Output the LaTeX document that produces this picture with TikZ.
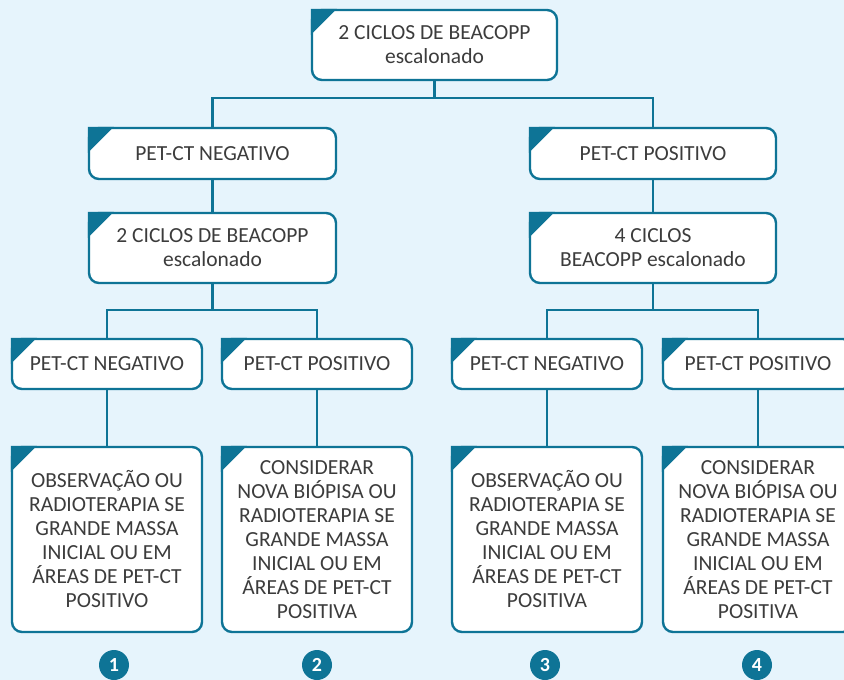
\documentclass[tikz,border=0pt]{standalone}
\usepackage{fontspec}
\setmainfont{Carlito}
\usepackage{tikz}
\usetikzlibrary{calc}
\definecolor{fundo}{HTML}{E6F4FC}
\definecolor{azul}{HTML}{0E7496}
\definecolor{texto}{HTML}{3C3C3C}

\begin{document}
\begin{tikzpicture}[
                x=1pt, y=-1pt, % 1 unidade = 1 pixel, y para baixo
                caixa/.style={draw=azul, line width=2.4pt, rounded corners=10pt, fill=white,
                    text=texto, align=center, inner sep=0pt,
                    font=\fontsize{21.5}{24}\selectfont},
                linha/.style={draw=azul, line width=2.4pt},
                numero/.style={circle, fill=azul, text=white, minimum size=30pt, inner sep=0pt,
                    font=\fontsize{20}{20}\selectfont\bfseries},
            ]
            % fundo
            \fill[fundo] (0,0) rectangle (844,680);
            \clip (0,0) rectangle (844,680);

            % nivel 1 e 2
            \node[caixa, minimum width=245pt, minimum height=70pt] (topo) at (434.5,45) {2 CICLOS DE BEACOPP\\escalonado};
            \node[caixa, minimum width=247pt, minimum height=51pt] (negA) at (212.5,153.5) {PET-CT NEGATIVO};
            \node[caixa, minimum width=246pt, minimum height=51pt] (posA) at (653,153.5) {PET-CT POSITIVO};

            % nivel 3
            \node[caixa, minimum width=247pt, minimum height=70pt] (ciclosA) at (212.5,248) {2 CICLOS DE BEACOPP\\escalonado};
            \node[caixa, minimum width=246pt, minimum height=70pt] (ciclosB) at (653,248) {4 CICLOS\\BEACOPP escalonado};

            % nivel 4
            \node[caixa, minimum width=190pt, minimum height=50pt] (negB) at (107,364) {PET-CT NEGATIVO};
            \node[caixa, minimum width=190pt, minimum height=50pt] (posB) at (317,364) {PET-CT POSITIVO};
            \node[caixa, minimum width=190pt, minimum height=50pt] (negC) at (547,364) {PET-CT NEGATIVO};
            \node[caixa, minimum width=190pt, minimum height=50pt] (posC) at (758,364) {PET-CT POSITIVO};

            % nivel 5
            \node[caixa, minimum width=190pt, minimum height=185pt] (condA) at (107,539.5)
                {OBSERVAÇÃO OU\\RADIOTERAPIA SE\\GRANDE MASSA\\INICIAL OU EM\\ÁREAS DE PET-CT\\POSITIVO};
            \node[caixa, minimum width=190pt, minimum height=185pt] (condB) at (317,539.5)
                {CONSIDERAR\\NOVA BIÓPISA OU\\RADIOTERAPIA SE\\GRANDE MASSA\\INICIAL OU EM\\ÁREAS DE PET-CT\\POSITIVA};
            \node[caixa, minimum width=190pt, minimum height=185pt] (condC) at (547,539.5)
                {OBSERVAÇÃO OU\\RADIOTERAPIA SE\\GRANDE MASSA\\INICIAL OU EM\\ÁREAS DE PET-CT\\POSITIVA};
            \node[caixa, minimum width=190pt, minimum height=185pt] (condD) at (758,539.5)
                {CONSIDERAR\\NOVA BIÓPISA OU\\RADIOTERAPIA SE\\GRANDE MASSA\\INICIAL OU EM\\ÁREAS DE PET-CT\\POSITIVA};

            % cantos (north west ja fica na borda externa da linha)
            \foreach \n in {topo,negA,posA,ciclosA,ciclosB,negB,posB,negC,posC,condA,condB,condC,condD}
                \fill[azul] (\n.north west) -- ++(26,0) -- ++(-26,26) -- cycle;

            % ligacoes
            \draw[linha] (topo.south) -- ++(0,17) -| (negA.north);
            \draw[linha] (topo.south) -- ++(0,17) -| (posA.north);
            \draw[linha] (negA) -- (ciclosA);
            \draw[linha] (posA) -- (ciclosB);
            \draw[linha] (ciclosA.south) -- ++(0,26) -| (negB.north);
            \draw[linha] (ciclosA.south) -- ++(0,26) -| (posB.north);
            \draw[linha] (ciclosB.south) -- ++(0,26) -| (negC.north);
            \draw[linha] (ciclosB.south) -- ++(0,26) -| (posC.north);
            \draw[linha] (negB) -- (condA);
            \draw[linha] (posB) -- (condB);
            \draw[linha] (negC) -- (condC);
            \draw[linha] (posC) -- (condD);

            % numeros
            \node[numero] (num1) at (114,665) {1};
            \node[numero] (num2) at (317,665) {2};
            \node[numero] (num3) at (545,665) {3};
            \node[numero] (num4) at (757,665) {4};
            \end{tikzpicture}
\end{document}
